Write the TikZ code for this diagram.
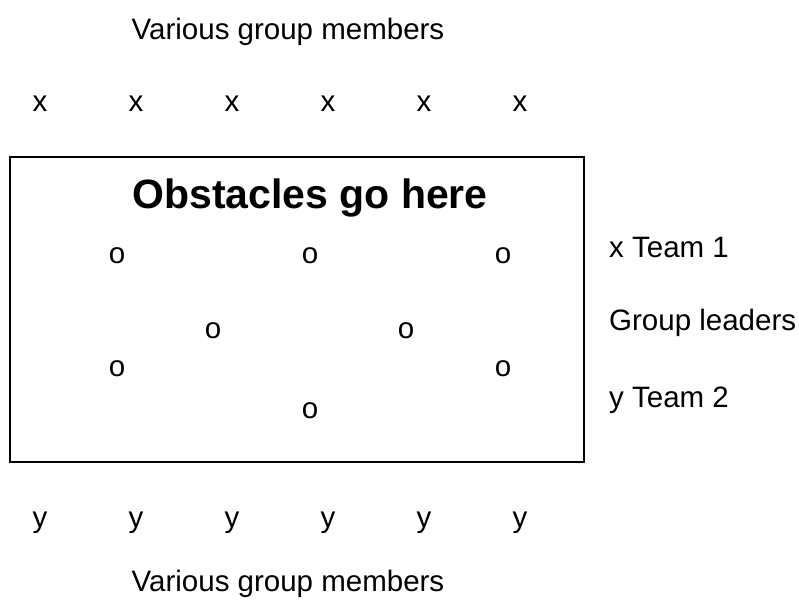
\documentclass[tikz,border=0pt]{standalone}
\usepackage{fontspec}
\setmainfont{Liberation Sans}
\usepackage{tikz}

\begin{document}
\begin{tikzpicture}[x=1pt, y=-1pt, every node/.style={font=\fontsize{29.5}{34}\selectfont, inner sep=0pt}]
\useasboundingbox (0,0) rectangle (799,602);

\path (288,32) node (topgroup) {Various group members};

%team 1
\path (40,104) node (xa) {x};
\path (136,104) node (xb) {x};
\path (232,104) node (xc) {x};
\path (328,104) node (xd) {x};
\path (424,104) node (xe) {x};
\path (520,104) node (xf) {x};

\draw[black, line width=2.6] (10,157) rectangle (584,462);
\path (310,198) node[font=\fontsize{41}{46}\selectfont\bfseries] (title) {Obstacles go here};

%leaders
\path (117,256) node (oa) {o};
\path (310,256) node (ob) {o};
\path (503,256) node (oc) {o};
\path (213,331) node (od) {o};
\path (406,331) node (oe) {o};
\path (117,369) node (of) {o};
\path (503,369) node (og) {o};
\path (310,411) node (oh) {o};

\path (609,247) node[anchor=west] (team1) {x Team 1};
\path (609,323) node[anchor=west] (leaders) {Group leaders};
\path (609,400) node[anchor=west] (team2) {y Team 2};

%team 2
\path (40,523) node (ya) {y};
\path (136,523) node (yb) {y};
\path (232,523) node (yc) {y};
\path (328,523) node (yd) {y};
\path (424,523) node (ye) {y};
\path (520,523) node (yf) {y};

\path (288,584) node (botgroup) {Various group members};
\end{tikzpicture}
\end{document}
